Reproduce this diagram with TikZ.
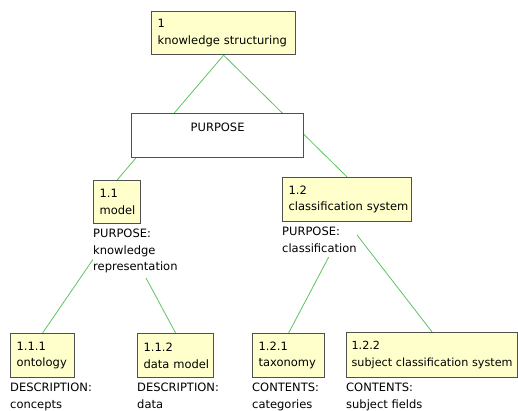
\documentclass[tikz,border=0pt]{standalone}
\usepackage{fontspec}
\setmainfont{DejaVu Sans}
\usetikzlibrary{backgrounds}
\definecolor{boxfill}{RGB}{255,255,204}
\definecolor{boxline}{RGB}{80,80,80}
\definecolor{edgegreen}{RGB}{95,195,95}
\hbadness=10000 \hfuzz=100pt
\begin{document}
\begin{tikzpicture}[x=1bp,y=-1bp,
  every node/.style={font=\fontsize{11.5bp}{16.5bp}\selectfont},
  topic/.style={draw=boxline, line width=1.2bp, fill=boxfill, anchor=north west,
     inner xsep=6bp, inner ysep=0pt, align=left},
  purbox/.style={draw=boxline, line width=1.2bp, fill=white, anchor=north west,
     inner sep=0pt, minimum width=172bp, minimum height=44bp},
  note/.style={fill=white, anchor=north west, inner xsep=0pt, inner ysep=5bp, align=left},
  edge/.style={draw=edgegreen, line width=0.8bp}
]
\useasboundingbox (0,0) rectangle (518,410);

\node[topic, text width=132bp, minimum height=43bp] (n1) at (151,11) {\mbox{1}\\\mbox{knowledge structuring}};
\node[purbox, label={[anchor=north, inner sep=0pt, yshift=-10bp]north:PURPOSE}] (pur) at (131,113) {};

\node[topic, text width=35bp, minimum height=43bp] (n11) at (93,180) {\mbox{1.1}\\\mbox{model}};
\node[note] (t11) at (93,223.8) {\mbox{PURPOSE:}\\\mbox{knowledge}\\\mbox{representation}};

\node[topic, text width=117bp, minimum height=44bp] (n12) at (282,177) {\mbox{1.2}\\\mbox{classification system}};
\node[note] (t12) at (282,221.8) {\mbox{PURPOSE:}\\\mbox{classification}};

\node[topic, text width=52bp, minimum height=44bp] (n111) at (10,333) {\mbox{1.1.1}\\\mbox{ontology}};
\node[note] (t111) at (10,377.8) {\mbox{DESCRIPTION:}\\\mbox{concepts}};

\node[topic, text width=64bp, minimum height=44bp] (n112) at (137,333) {\mbox{1.1.2}\\\mbox{data model}};
\node[note] (t112) at (137,377.8) {\mbox{DESCRIPTION:}\\\mbox{data}};

\node[topic, text width=60bp, minimum height=44bp] (n121) at (252,333) {\mbox{1.2.1}\\\mbox{taxonomy}};
\node[note] (t121) at (252,377.8) {\mbox{CONTENTS:}\\\mbox{categories}};

\node[topic, text width=161bp, inner xsep=5bp, minimum height=45bp,
      font=\fontsize{11.2bp}{16.5bp}\selectfont] (n122) at (346,332) {\mbox{1.2.2}\\\mbox{subject classification system}};
\node[note] (t122) at (346,377.8) {\mbox{CONTENTS:}\\\mbox{subject fields}};

\begin{scope}[on background layer]
  \draw[edge] (n1.south) -- (n11.north);
  \draw[edge] (n1.south) -- (n12.north);
  \draw[edge] (n11.south) -- (n111.north);
  \draw[edge] (n11.south) -- (n112.north);
  \draw[edge] (n12.south) -- (n121.north);
  \draw[edge] (n12.south) -- (n122.north);
\end{scope}
\end{tikzpicture}
\end{document}
